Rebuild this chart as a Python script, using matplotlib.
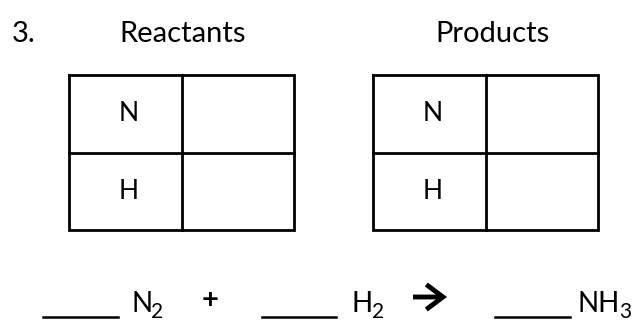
import matplotlib
matplotlib.use("Agg")
import matplotlib.pyplot as plt

# ---- content ----
problem_number = "3."
table_titles = ["Reactants", "Products"]
elements = ["N", "H"]
equation_terms = [("N", "2"), ("H", "2"), ("NH", "3")]
plus_sign = "+"

FONT = ["Lato", "DejaVu Sans"]

W, H = 633, 322
fig = plt.figure(figsize=(W / 100, H / 100), dpi=100)
ax = fig.add_axes([0, 0, 1, 1])
ax.set_xlim(0, W)
ax.set_ylim(H, 0)
ax.axis("off")

# header
ax.text(12, 42, problem_number, fontsize=21, family=FONT, ha="left", va="baseline")
title_x = [183, 492]
for t, x in zip(table_titles, title_x):
    ax.text(x, 42, t, fontsize=21, family=FONT, ha="center", va="baseline")

# tables
tables = [(69, 182, 294), (373, 486, 598)]
top, mid, bot = 75, 153, 230
lw = 2.0
for (x0, xm, x1) in tables:
    ax.plot([x0, x1, x1, x0, x0], [top, top, bot, bot, top], color="black", lw=lw,
            solid_joinstyle="miter")
    ax.plot([xm, xm], [top, bot], color="black", lw=lw)
    ax.plot([x0, x1], [mid, mid], color="black", lw=lw)
    cx = (x0 + xm) / 2 + 3
    for el, yb in zip(elements, [121, 199]):
        ax.text(cx, yb, el, fontsize=19, family=FONT, ha="center", va="baseline")

# equation
blanks = [(43, 118), (262, 336), (495, 570)]
for (b0, b1) in blanks:
    ax.plot([b0, b1], [317, 317], color="black", lw=1.8)

fig.canvas.draw()
renderer = fig.canvas.get_renderer()
term_x = [131, 352, 578]
for (sym, sub), x in zip(equation_terms, term_x):
    t = ax.text(x, 312, sym, fontsize=20, family=FONT, ha="left", va="baseline")
    bb = t.get_window_extent(renderer=renderer)
    x_end = bb.x1  # axes fills the figure: 1 display px == 1 data unit in x
    ax.text(x_end - 1, 322, sub, fontsize=15, family=FONT, ha="left", va="bottom")

ax.text(210, 300, plus_sign, fontsize=21, family=FONT, ha="center", va="center",
        fontweight="bold")

# reaction arrow
ax.annotate("", xy=(447, 297), xytext=(413, 297),
            arrowprops=dict(arrowstyle="->,head_length=0.6,head_width=0.45",
                            lw=3.5, color="black", mutation_scale=20,
                            shrinkA=0, shrinkB=0, joinstyle="miter",
                            capstyle="butt"))

fig.savefig("out.png", dpi=100, facecolor="white")
